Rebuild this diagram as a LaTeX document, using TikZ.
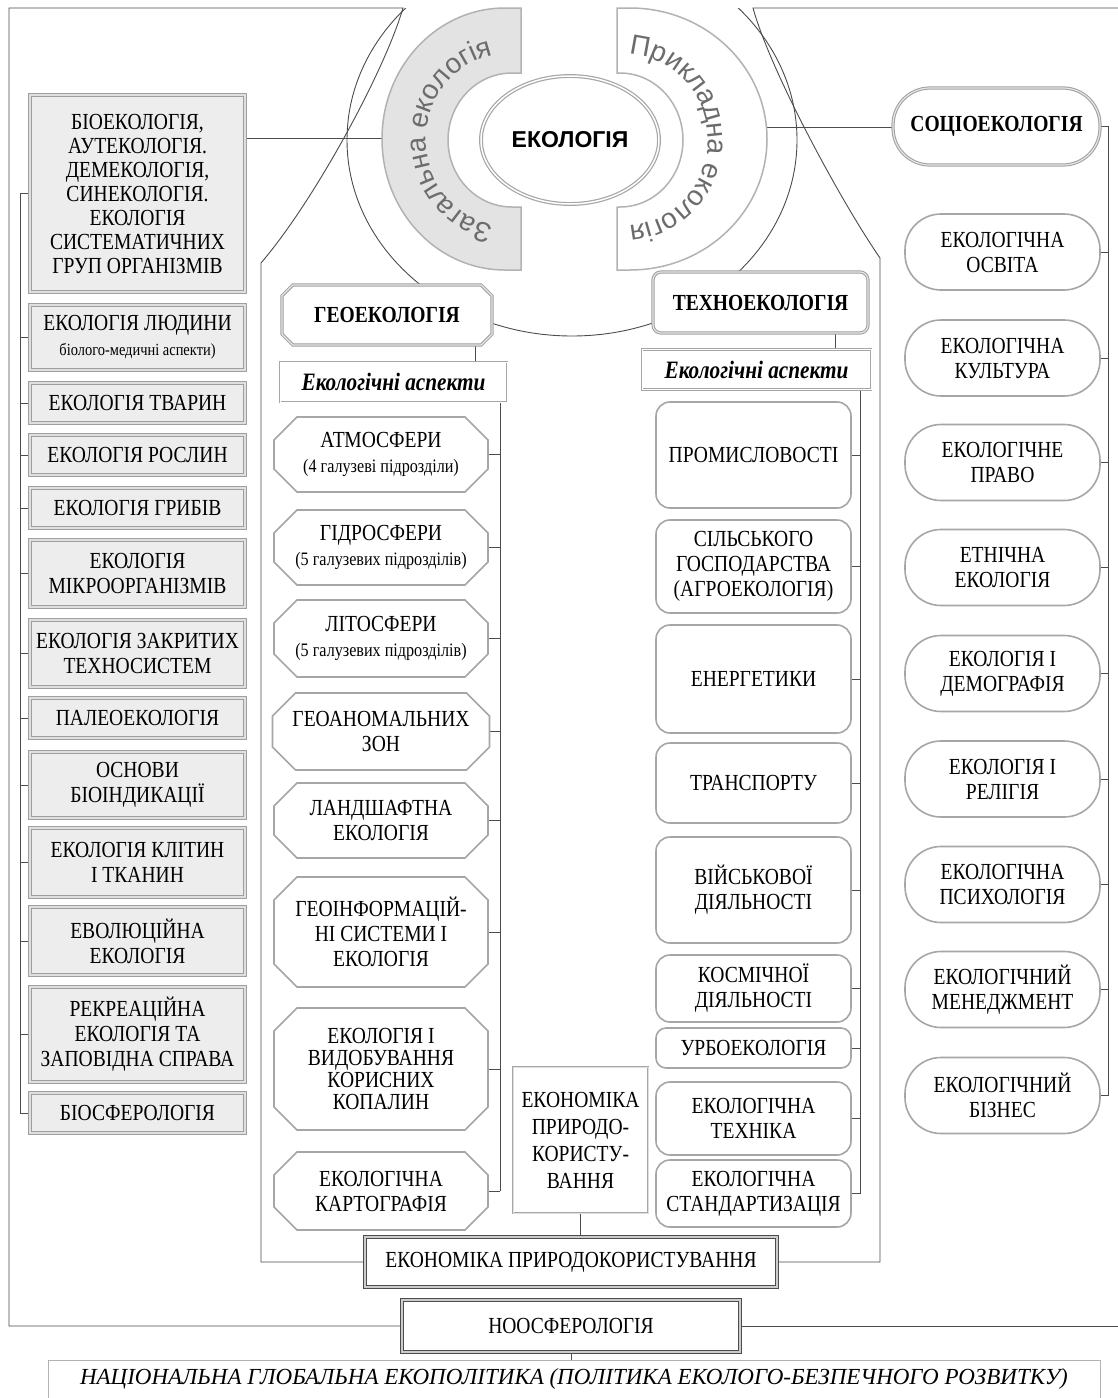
\documentclass[tikz,border=0pt]{standalone}
\usepackage{fontspec}
\setmainfont{Liberation Serif}[FakeStretch=0.85]
\setsansfont{Liberation Sans}
\newfontfamily\widefont{Liberation Serif}
\usetikzlibrary{shapes.geometric,shapes.misc,decorations.text,backgrounds}

\begin{document}
\begin{tikzpicture}
  [x=1pt,y=1pt,
   every node/.style={align=center,inner sep=0pt,font=\fontsize{23}{25}\selectfont},
   link/.style={draw=gray!60!black,line width=0.9pt},
   lbox/.style={rectangle,draw=gray!75,double=gray!25,double distance=1.3pt,line width=0.9pt,fill=gray!14,minimum width=215},
   gbox/.style={chamfered rectangle,chamfered rectangle xsep=20pt,draw=gray!70,line width=1.6pt,fill=white,minimum width=214},
   tbox/.style={rectangle,rounded corners=14pt,draw=gray!70,line width=1.6pt,fill=white,minimum width=195},
   sbox/.style={rectangle,rounded corners=36pt,draw=gray!70,line width=1.6pt,fill=white,minimum width=195,minimum height=76},
   abox/.style={rectangle,draw=gray!70,double=white,double distance=1pt,line width=0.8pt,fill=white,minimum height=40,font=\fontsize{25}{27}\selectfont\bfseries\itshape},
   head/.style={draw=gray!75,double=gray!20,double distance=1.2pt,line width=1pt,fill=white,font=\fontsize{23}{25}\selectfont\bfseries},
   ebox/.style={rectangle,draw=gray!60!black,double=gray!40,double distance=1.5pt,line width=1.3pt,fill=white},
   pbox/.style={rectangle,draw=gray!60,line width=0.9pt,fill=white}]
  \useasboundingbox (0,0) rectangle (1118,-1398);

  % rings round the centre
  \filldraw[fill=gray!22,draw=gray!60,line width=1.5pt] (521,-8) -- (505,-8)
    arc[start angle=90,end angle=270,x radius=123,y radius=131] -- (521,-270) -- (521,-207) -- (512,-207)
    arc[start angle=270,end angle=90,x radius=64,y radius=67] -- (521,-73) -- cycle;
  \filldraw[fill=white,draw=gray!60,line width=1.5pt] (617,-8) -- (630,-8)
    arc[start angle=90,end angle=-90,x radius=137,y radius=131] -- (617,-270) -- (617,-207) -- (620,-207)
    arc[start angle=-90,end angle=90,x radius=63,y radius=67] -- (617,-73) -- cycle;
  \path[decorate,decoration={text along path,text align=center,
      text={|\sffamily\fontsize{28}{30}\selectfont\color{gray!85!black}|Загальна екологія}}]
    (508,-226) arc[start angle=270,end angle=90,x radius=82,y radius=86];
  \path[decorate,decoration={text along path,text align=center,
      text={|\sffamily\fontsize{28}{30}\selectfont\color{gray!85!black}|Прикладна екологія}}]
    (624,-54) arc[start angle=90,end angle=-90,x radius=84,y radius=86];

  \node[ellipse,draw=gray!70,double=white,double distance=1.5pt,line width=1.2pt,fill=white,
        minimum width=178,minimum height=128,font=\fontsize{23}{25}\selectfont\sffamily\bfseries] (eco) at (570,-140) {ЕКОЛОГІЯ};

  % left column
  \node[lbox,minimum height=197,font=\fontsize{23}{24}\selectfont] (bio) at (137.5,-193.5)
    {БІОЕКОЛОГІЯ,\\АУТЕКОЛОГІЯ.\\ДЕМЕКОЛОГІЯ,\\СИНЕКОЛОГІЯ.\\ЕКОЛОГІЯ\\СИСТЕМАТИЧНИХ\\ГРУП ОРГАНІЗМІВ};
  \node[lbox,minimum height=65] (ludy) at (137.5,-337.5) {ЕКОЛОГІЯ ЛЮДИНИ\\{\fontsize{17}{19}\selectfont біолого-медичні аспекти)}};
  \node[lbox,minimum height=40] (tvar) at (137.5,-403) {ЕКОЛОГІЯ ТВАРИН};
  \node[lbox,minimum height=40] (rosl) at (137.5,-455) {ЕКОЛОГІЯ РОСЛИН};
  \node[lbox,minimum height=40] (gryb) at (137.5,-508) {ЕКОЛОГІЯ ГРИБІВ};
  \node[lbox,minimum height=67] (mikr) at (137.5,-573.5) {ЕКОЛОГІЯ\\МІКРООРГАНІЗМІВ};
  \node[lbox,minimum height=67] (zakr) at (137.5,-653.5) {ЕКОЛОГІЯ ЗАКРИТИХ\\ТЕХНОСИСТЕМ};
  \node[lbox,minimum height=40] (pale) at (137.5,-718) {ПАЛЕОЕКОЛОГІЯ};
  \node[lbox,minimum height=66] (bind) at (137.5,-785) {ОСНОВИ\\БІОІНДИКАЦІЇ};
  \node[lbox,minimum height=69] (klit) at (137.5,-862.5) {ЕКОЛОГІЯ КЛІТИН\\І ТКАНИН};
  \node[lbox,minimum height=68] (evol) at (137.5,-941) {ЕВОЛЮЦІЙНА\\ЕКОЛОГІЯ};
  \node[lbox,minimum height=95] (rekr) at (137.5,-1034.5) {РЕКРЕАЦІЙНА\\ЕКОЛОГІЯ ТА\\ЗАПОВІДНА СПРАВА};
  \node[lbox,minimum height=40] (bsfr) at (137.5,-1113) {БІОСФЕРОЛОГІЯ};

  % geoecology
  \node[head,chamfered rectangle,chamfered rectangle xsep=10pt,minimum width=210,minimum height=60] (geo) at (387,-315) {ГЕОЕКОЛОГІЯ};
  \node[abox,minimum width=227] (gasp) at (393.5,-382) {Екологічні аспекти};
  \node[gbox,minimum height=75] (atm) at (381,-454.5) {АТМОСФЕРИ\\{\fontsize{19}{21}\selectfont(4 галузеві підрозділи)}};
  \node[gbox,minimum height=75] (hydr) at (381,-547.5) {ГІДРОСФЕРИ\\{\fontsize{19}{21}\selectfont(5 галузевих підрозділів)}};
  \node[gbox,minimum height=77] (lito) at (381,-638.5) {ЛІТОСФЕРИ\\{\fontsize{19}{21}\selectfont(5 галузевих підрозділів)}};
  \node[gbox,minimum height=77] (anom) at (381,-731.5) {ГЕОАНОМАЛЬНИХ\\ЗОН};
  \node[gbox,minimum height=75] (land) at (381,-820.5) {ЛАНДШАФТНА\\ЕКОЛОГІЯ};
  \node[gbox,minimum height=110] (ginf) at (381,-932) {ГЕОІНФОРМАЦІЙ-\\НІ СИСТЕМИ І\\ЕКОЛОГІЯ};
  \node[gbox,minimum height=122,font=\fontsize{23}{22}\selectfont] (vydo) at (381,-1069) {ЕКОЛОГІЯ І\\ВИДОБУВАННЯ\\КОРИСНИХ\\КОПАЛИН};
  \node[gbox,minimum height=78] (kart) at (381,-1191) {ЕКОЛОГІЧНА\\КАРТОГРАФІЯ};

  % technoecology
  \node[head,rectangle,rounded corners=8pt,minimum width=215,minimum height=61] (tech) at (760.5,-302.5) {ТЕХНОЕКОЛОГІЯ};
  \node[abox,minimum width=229] (tasp) at (756.5,-369.5) {Екологічні аспекти};
  \node[tbox,minimum height=106] (prom) at (753.5,-455) {ПРОМИСЛОВОСТІ};
  \node[tbox,minimum height=93] (silh) at (753.5,-566.5) {СІЛЬСЬКОГО\\ГОСПОДАРСТВА\\(АГРОЕКОЛОГІЯ)};
  \node[tbox,minimum height=108] (ener) at (753.5,-679) {ЕНЕРГЕТИКИ};
  \node[tbox,minimum height=80] (tran) at (753.5,-783) {ТРАНСПОРТУ};
  \node[tbox,minimum height=106] (vijs) at (753.5,-890) {ВІЙСЬКОВОЇ\\ДІЯЛЬНОСТІ};
  \node[tbox,minimum height=67] (kosm) at (753.5,-988.5) {КОСМІЧНОЇ\\ДІЯЛЬНОСТІ};
  \node[tbox,minimum height=40,rounded corners=10pt] (urbo) at (753.5,-1048) {УРБОЕКОЛОГІЯ};
  \node[tbox,minimum height=73] (tekh) at (753.5,-1118.5) {ЕКОЛОГІЧНА\\ТЕХНІКА};
  \node[tbox,minimum height=67] (stan) at (753.5,-1193.5) {ЕКОЛОГІЧНА\\СТАНДАРТИЗАЦІЯ};

  % socioecology
  \node[head,rectangle,rounded corners=37pt,minimum width=207,minimum height=77] (soc) at (996.5,-126.5) {СОЦІОЕКОЛОГІЯ};
  \node[sbox] (osv) at (1002.5,-252) {ЕКОЛОГІЧНА\\ОСВІТА};
  \node[sbox] (kult) at (1002.5,-358) {ЕКОЛОГІЧНА\\КУЛЬТУРА};
  \node[sbox] (prav) at (1002.5,-462.5) {ЕКОЛОГІЧНЕ\\ПРАВО};
  \node[sbox] (etn) at (1002.5,-567.5) {ЕТНІЧНА\\ЕКОЛОГІЯ};
  \node[sbox] (dem) at (1002.5,-673.5) {ЕКОЛОГІЯ І\\ДЕМОГРАФІЯ};
  \node[sbox] (rel) at (1002.5,-779) {ЕКОЛОГІЯ І\\РЕЛІГІЯ};
  \node[sbox] (psy) at (1002.5,-884.5) {ЕКОЛОГІЧНА\\ПСИХОЛОГІЯ};
  \node[sbox] (men) at (1002.5,-989.5) {ЕКОЛОГІЧНИЙ\\МЕНЕДЖМЕНТ};
  \node[sbox] (biz) at (1002.5,-1095.5) {ЕКОЛОГІЧНИЙ\\БІЗНЕС};

  % economy and bottom
  \node[pbox,draw=gray!70,double=gray!25,double distance=1pt,minimum width=135,minimum height=146,font=\fontsize{23}{27}\selectfont] (ekp) at (580.5,-1140) {ЕКОНОМІКА\\ПРИРОДО-\\КОРИСТУ-\\ВАННЯ};
  \node[ebox,minimum width=412,minimum height=50] (ekn) at (571,-1262) {ЕКОНОМІКА ПРИРОДОКОРИСТУВАННЯ};
  \node[ebox,minimum width=338,minimum height=52] (noo) at (571,-1326) {НООСФЕРОЛОГІЯ};
  \node[pbox,minimum width=1052,minimum height=38,font=\widefont\fontsize{23}{25}\selectfont\itshape] (pol) at (574,-1379)
    {НАЦІОНАЛЬНА ГЛОБАЛЬНА ЕКОПОЛІТИКА (ПОЛІТИКА ЕКОЛОГО-БЕЗПЕЧНОГО РОЗВИТКУ)};

  \coordinate (lb) at (20,0);
  \coordinate (gw) at (382,-138);
  \coordinate (gv) at (475,0);
  \coordinate (gb) at (500,0);
  \coordinate (tv) at (835,0);
  \coordinate (tb) at (860,0);
  \coordinate (pw) at (767,-127);
  \coordinate (sb) at (1108,0);
  \coordinate (fl) at (261,-263);
  \coordinate (fr) at (880,-258);
  \coordinate (re) at (1118,0);

  \begin{scope}[on background layer]
    \fill[white] (0,0) rectangle (1118,-1398);
    \begin{scope}
      \clip (0,-8) rectangle (1118,-1398);
      \draw[link] (572,-140) ellipse[x radius=225,y radius=196];
    \end{scope}
    \draw[link] (ekn.west) -| (fl) .. controls (315,-200) and (385,-70) .. (403,-8) -- (9,-8) |- (noo.west);
    \draw[link] (ekn.east) -| (fr) .. controls (840,-200) and (770,-70) .. (753,-8) -- (1118,-8);
    \draw[link] (noo.east) -- (noo.east -| re);
    \draw[link] (bio.east |- gw) -- (gw);
    \draw[link] (pw) -- (soc.west |- pw);
    \draw[link] (bio.west -| lb) -- (bsfr.west -| lb);
    \foreach \n in {bio,ludy,tvar,rosl,gryb,mikr,zakr,pale,bind,klit,evol,rekr,bsfr}
      \draw[link] (\n.west) -- (\n.west -| lb);
    \draw[link] (geo.south -| gv) -- (gasp.north -| gv);
    \draw[link] (gasp.south -| gb) -- (kart.east -| gb);
    \foreach \n in {atm,hydr,lito,anom,land,ginf,vydo,kart}
      \draw[link] (\n.east) -- (\n.east -| gb);
    \draw[link] (tech.south -| tv) -- (tasp.north -| tv);
    \draw[link] (tasp.south -| tb) -- (stan.east -| tb);
    \foreach \n in {prom,silh,ener,tran,vijs,kosm,urbo,tekh,stan}
      \draw[link] (\n.east) -- (\n.east -| tb);
    \draw[link] (soc.east) -- (soc.east -| sb) -- (biz.east -| sb);
    \foreach \n in {osv,kult,prav,etn,dem,rel,psy,men,biz}
      \draw[link] (\n.east) -- (\n.east -| sb);
    \draw[link] (ekp.south) -- (ekp.south |- ekn.north);
    \draw[link] (noo.south) -- (noo.south |- pol.north);
  \end{scope}
\end{tikzpicture}
\end{document}
